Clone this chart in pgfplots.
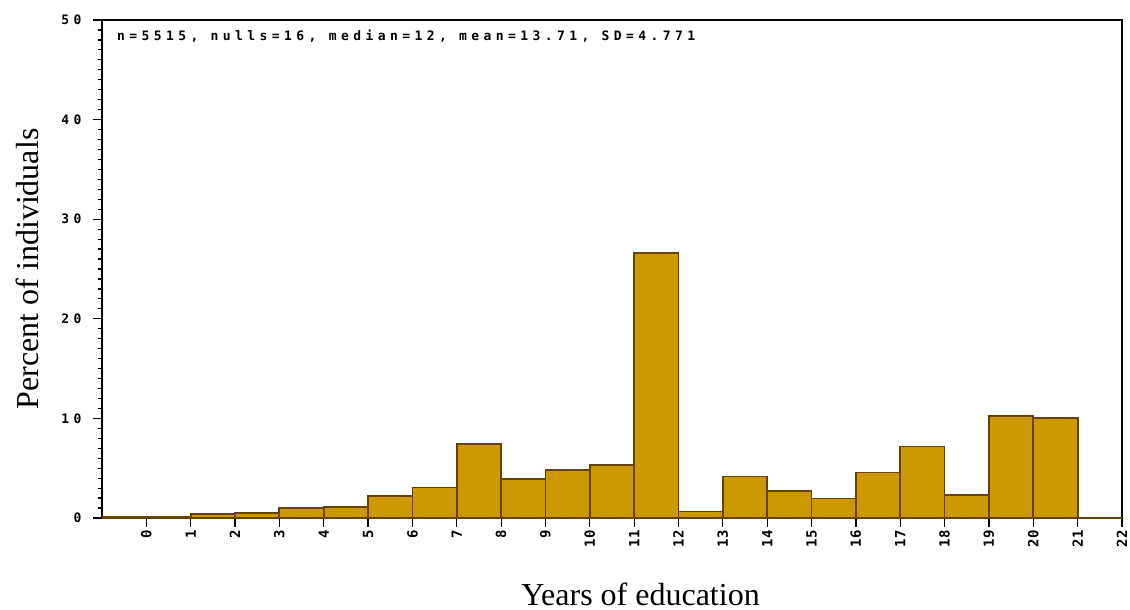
\documentclass[border=0pt]{standalone}
\usepackage{fontspec}
\setmainfont{Liberation Serif}
\newfontfamily\pixfont[LetterSpace=34]{DejaVu Sans Mono}
\newfontfamily\pixfontx{DejaVu Sans Mono}
\usepackage{pgfplots}
\pgfplotsset{compat=1.18}
\definecolor{barfill}{RGB}{204,153,0}
\definecolor{baredge}{RGB}{104,64,0}
\newcommand{\pixsize}{\pixfont\bfseries\fontsize{13bp}{13bp}\selectfont}
\newcommand{\pixsizex}{\pixfontx\bfseries\fontsize{14bp}{14bp}\selectfont}
\begin{document}
\begin{tikzpicture}
\path[use as bounding box] (-102bp,-92bp) rectangle (1028bp,518bp);
\begin{axis}[
  at={(0,0)}, anchor=south west,
  scale only axis, width=1020bp, height=498bp,
  xmin=-1, xmax=22, ymin=0, ymax=50,
  xtick={0,...,22}, ytick={0,10,...,50}, minor y tick num=9,
  tick pos=left, tick align=outside,
  major tick length=9bp, minor tick length=4bp,
  every tick/.style={black, line width=1.2bp},
  axis line style={line width=1.5bp, black},
  /pgf/number format/assume math mode=true,
  y tick label style={font=\pixsize, xshift=-8bp},
  x tick label style={font=\pixsizex, rotate=90, anchor=east},
  xlabel={Years of education},
  ylabel={Percent of individuals},
  xlabel style={at={(axis description cs:0.528,-0.1747)}, anchor=base, font=\fontsize{32bp}{36bp}\selectfont},
  ylabel style={at={(axis description cs:-0.0735,0.5)}, anchor=center, font=\fontsize{32bp}{36bp}\selectfont},
]
\addplot[ybar interval, fill=barfill, draw=baredge, line width=1.8bp] coordinates {
(-1,0.1) (0,0.1) (1,0.38) (2,0.52) (3,0.97) (4,1.08) (5,2.18) (6,3.06)
(7,7.45) (8,3.95) (9,4.8) (10,5.3) (11,26.6) (12,0.65) (13,4.17) (14,2.7)
(15,1.95) (16,4.57) (17,7.17) (18,2.3) (19,10.28) (20,10.06) (21,0) (22,0)
};
\node[anchor=base west, inner sep=0pt, xshift=15bp, yshift=-20bp, font=\pixsize] at (rel axis cs:0,1) {n=5515, nulls=16, median=12, mean=13.71, SD=4.771};
\end{axis}
\end{tikzpicture}
\end{document}
